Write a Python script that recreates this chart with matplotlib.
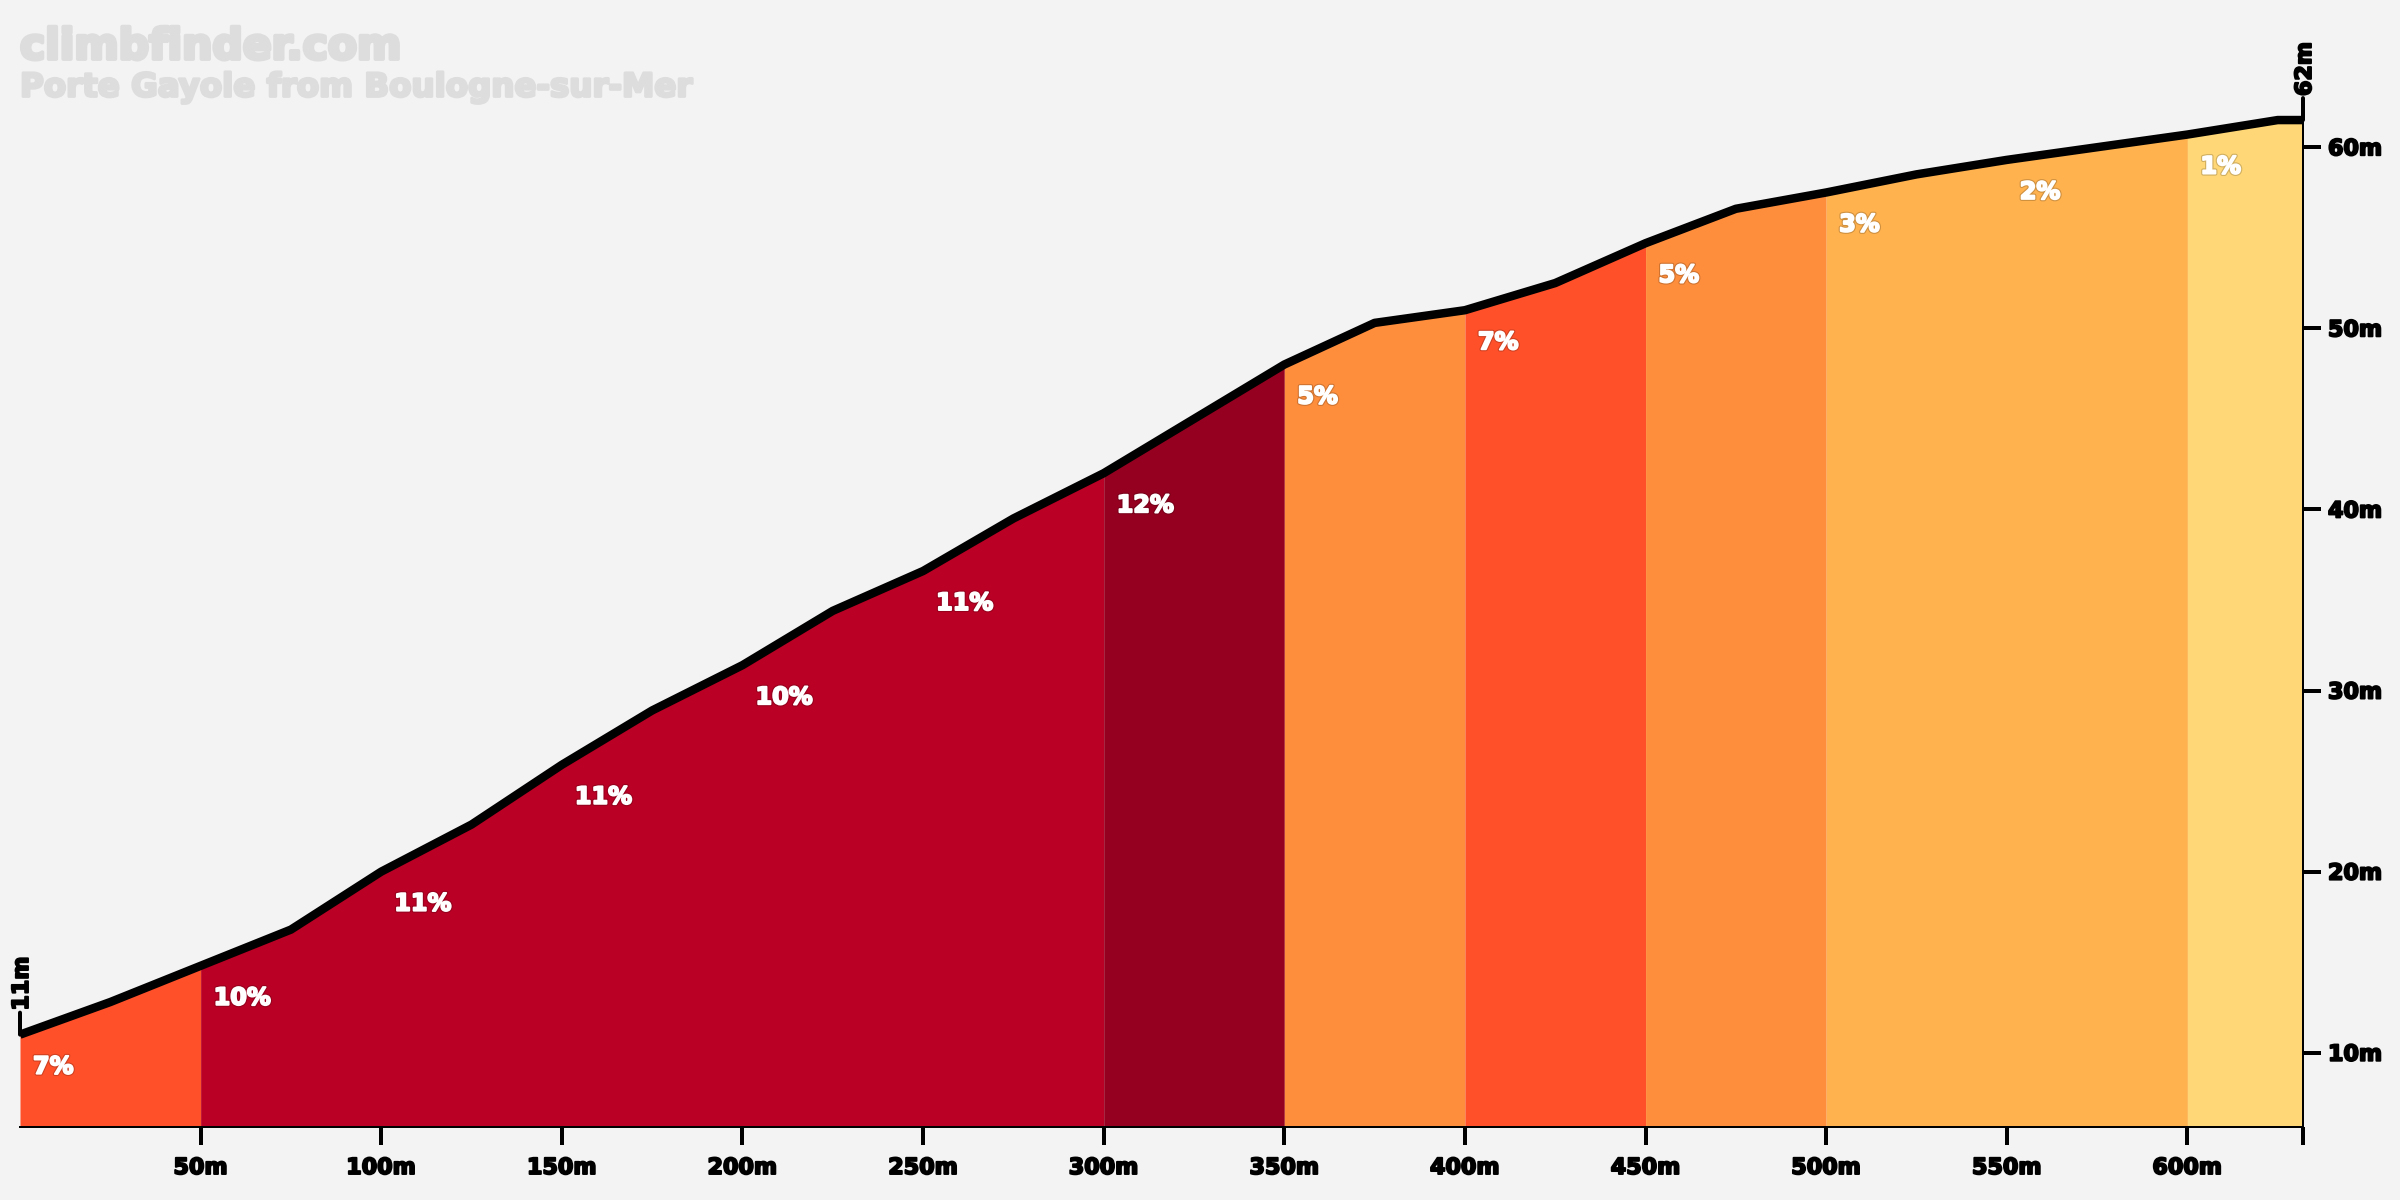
import matplotlib
matplotlib.use('Agg')
import matplotlib.pyplot as plt
import matplotlib.patheffects as pe
import numpy as np

# profile, one point every 25m, plus the end of the climb
distance = [0, 25, 50, 75, 100, 125, 150, 175, 200, 225, 250, 275, 300, 325, 350,
            375, 400, 425, 450, 475, 500, 525, 550, 575, 600, 625, 632]
elevation = [11.0, 12.8, 14.8, 16.8, 20.0, 22.6, 25.9, 28.9, 31.4, 34.4, 36.6, 39.5, 42.0, 45.0, 48.0,
             50.3, 51.0, 52.5, 54.7, 56.6, 57.5, 58.5, 59.3, 60.0, 60.7, 61.5, 61.5]

# coloured bands
band_edges = [0, 50, 300, 350, 400, 450, 500, 600, 632]
band_colors = ['#FF5029', '#BA0024', '#960020', '#FF8E3C', '#FF5029', '#FF8E3C', '#FFB24E', '#FFD776']

# gradient labels, one per 50m
grade_start = [0, 50, 100, 150, 200, 250, 300, 350, 400, 450, 500, 550, 600]
grade_label = ['7%', '10%', '11%', '11%', '10%', '11%', '12%', '5%', '7%', '5%', '3%', '2%', '1%']

x_ticks = [50, 100, 150, 200, 250, 300, 350, 400, 450, 500, 550, 600, 632]
x_tick_labels = ['50m', '100m', '150m', '200m', '250m', '300m', '350m', '400m', '450m', '500m', '550m', '600m', '']
y_ticks = [10, 20, 30, 40, 50, 60]
y_tick_labels = ['10m', '20m', '30m', '40m', '50m', '60m']

start_label = '11m'
end_label = '62m'
title = 'climbfinder.com'
subtitle = 'Porte Gayole from Boulogne-sur-Mer'

bg = '#F3F3F3'
FONT = ['DejaVu Sans']
px = 72 / 200.0  # one pixel in points

fig = plt.figure(figsize=(12, 6), dpi=200, facecolor=bg)
ax = fig.add_axes([20 / 2400, (1200 - 1127) / 1200, 2283 / 2400, (1127 - 111) / 1200])
ax.set_facecolor(bg)
ax.patch.set_alpha(0)

x = np.array(distance)
y = np.array(elevation)

for i in range(len(band_colors)):
    mask = (x >= band_edges[i]) & (x <= band_edges[i + 1])
    ax.fill_between(x[mask], 5.9, y[mask], color=band_colors[i], linewidth=0, zorder=1)

ax.plot(x, y, color='black', linewidth=8.5 * px, solid_capstyle='butt',
        solid_joinstyle='round', clip_on=False, zorder=3)

ax.set_xlim(0, 632)
ax.set_ylim(5.9, 62)

ax.spines['top'].set_visible(False)
ax.spines['left'].set_visible(False)
ax.spines['bottom'].set_linewidth(2 * px)
ax.spines['right'].set_linewidth(2 * px)
ax.spines['right'].set_zorder(4)

heavy = [pe.withStroke(linewidth=0.7, foreground='black')]

ax.yaxis.tick_right()
ax.set_xticks(x_ticks)
ax.set_xticklabels(x_tick_labels, family=FONT, fontweight='bold', fontsize=8, path_effects=heavy)
ax.set_yticks(y_ticks)
ax.set_yticklabels(y_tick_labels, family=FONT, fontweight='bold', fontsize=8, path_effects=heavy)
ax.tick_params(axis='x', length=18 * px, width=4 * px, pad=13 * px, color='black')
ax.tick_params(axis='y', length=18 * px, width=4 * px, pad=7 * px, color='black')

# gradient labels sit just under the profile
for start, label in zip(grade_start, grade_label):
    elev = y[x == start][0]
    ax.annotate(label, xy=(start, elev), xytext=(13 * px, -32 * px), textcoords='offset points',
                family=FONT, fontweight='bold', fontsize=8.6, color='white', ha='left', va='center',
                zorder=5, path_effects=[pe.withStroke(linewidth=1.5, foreground='#00000030'),
                                        pe.withStroke(linewidth=0.7, foreground='white')])

# start and end markers
for xv, yv, label in [(x[0], y[0], start_label), (x[-1], y[-1], end_label)]:
    ax.annotate('', xy=(xv, yv), xytext=(0, 22 * px), textcoords=('offset points'),
                arrowprops=dict(arrowstyle='-', color='black', linewidth=4 * px, shrinkA=0, shrinkB=0),
                annotation_clip=False, zorder=4)
    ax.annotate(label, xy=(xv, yv), xytext=(2 * px, 24 * px), textcoords='offset points',
                family=FONT, fontweight='bold', fontsize=8, rotation=90, ha='center', va='bottom',
                annotation_clip=False, path_effects=heavy)

# watermark
fig.text(20 / 2400, 1 - 47 / 1200, title, family=FONT, fontweight='bold', fontsize=15.3,
         color='#DDDDDD', ha='left', va='center',
         path_effects=[pe.withStroke(linewidth=1.4, foreground='#DDDDDD')])
fig.text(20 / 2400, 1 - 88 / 1200, subtitle, family=FONT, fontweight='bold', fontsize=11.7,
         color='#DDDDDD', ha='left', va='center',
         path_effects=[pe.withStroke(linewidth=1.0, foreground='#DDDDDD')])

fig.savefig('out.png', dpi=200, facecolor=bg)
